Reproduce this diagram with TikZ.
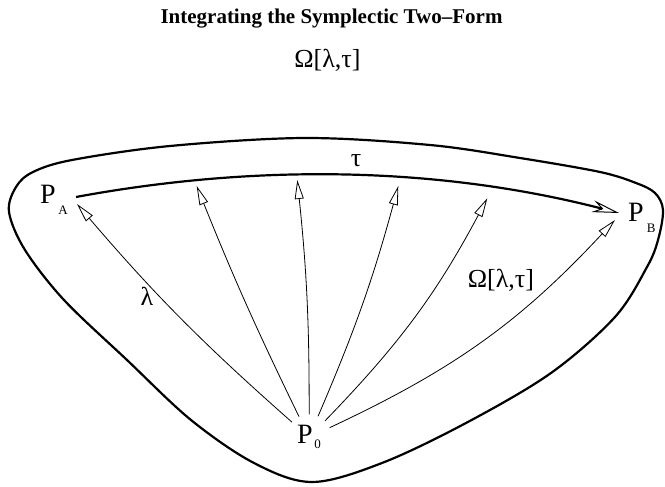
\documentclass[tikz,border=0pt]{standalone}
\usepackage{fontspec}
\setmainfont{Liberation Serif}
\usetikzlibrary{arrows.meta}
\begin{document}
\begin{tikzpicture}[x=1pt, y=-1pt,
  ptlabel/.style={inner sep=0pt, font=\fontsize{28}{28}\selectfont},
  greek/.style={inner sep=0pt, font=\fontsize{26}{26}\selectfont},
  ray/.style={line width=0.8pt, -{Triangle[open, length=19pt, width=9pt]}},
  tauline/.style={line width=2.2pt, -{Stealth[open, length=27pt, width=12pt, inset=9pt, line width=1pt]}},
  region/.style={line width=2.2pt, line join=round}]
  \useasboundingbox (0,0) rectangle (665,487);
  % title
  \node[inner sep=0pt, anchor=base, font=\fontsize{21}{24}\selectfont\bfseries] (title) at (331.5,23.5) {Integrating the Symplectic Two–Form};
  \node[greek, anchor=base] (omtop) at (327.5,68) {Ω[λ,τ]};
  % region
  \draw[region] plot[smooth cycle, tension=0.55] coordinates {(305,138) (430,145) (520,158) (600,172) (636,183) (655,193) (663,210) (658,240) (647,267) (615,317) (551,373) (466,423) (382,463) (312,482) (254,463) (191,420) (127,360) (64,300) (25,250) (9,212) (16,187) (33,172) (72,160) (170,146)};
  % points
  \node[ptlabel, anchor=base west] (PA) at (40,203.3) {P\kern2.7pt\raisebox{-11.7pt}{\fontsize{13}{13}\selectfont A}};
  \node[ptlabel, anchor=base west] (PB) at (628,221.7) {P\kern3pt\raisebox{-10.6pt}{\fontsize{13}{13}\selectfont B}};
  \node[ptlabel, circle, minimum size=45pt] (P0) at (309,437) {P\kern1.7pt\raisebox{-5.7pt}{\fontsize{13}{13}\selectfont 0}};
  % tau path
  \coordinate (tauA) at (76,197);
  \coordinate (tauB) at (619,213);
  \draw[tauline] (tauA) .. controls (262.7,162.5) and (443.7,167.8) .. (tauB);
  \node[greek, anchor=base] (tau) at (356,167) {τ};
  % rays from P0
  \coordinate (t1) at (77,204);
  \coordinate (t2) at (196.7,186);
  \coordinate (t3) at (297.3,180);
  \coordinate (t4) at (398.3,186);
  \coordinate (t5) at (487.3,198.3);
  \coordinate (t6) at (615,220);
  \draw[ray] (P0) to[bend left=4] (t1);
  \draw[ray] (P0) to[bend left=2] (t2);
  \draw[ray] (P0) to[bend right=3] (t3);
  \draw[ray] (P0) to[bend right=4] (t4);
  \draw[ray] (P0) to[bend right=8] (t5);
  \draw[ray] (P0) to[bend right=11] (t6);
  \node[greek, anchor=base] (lam) at (147,305) {λ};
  \node[greek, anchor=base] (omega) at (501,287) {Ω[λ,τ]};
\end{tikzpicture}
\end{document}
